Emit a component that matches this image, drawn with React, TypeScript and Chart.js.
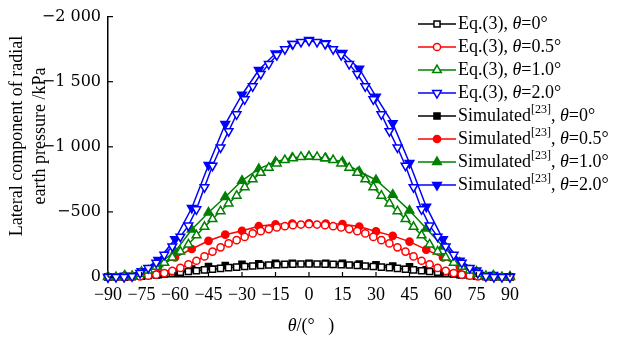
import React, { useEffect, useRef } from 'react';
import { Chart, registerables } from 'chart.js';

Chart.register(...registerables);

// ---------- data ----------
const eqTheta = [-90, -86.4, -82.8, -79.2, -75.6, -72, -68.4, -64.8, -61.2, -57.6, -54, -50.4, -46.8, -43.2, -39.6, -36, -32.4, -28.8, -25.2, -21.6, -18, -14.4, -10.8, -7.2, -3.6, 0, 3.6, 7.2, 10.8, 14.4, 18, 21.6, 25.2, 28.8, 32.4, 36, 39.6, 43.2, 46.8, 50.4, 54, 57.6, 61.2, 64.8, 68.4, 72, 75.6, 79.2, 82.8, 86.4, 90];

const eqTheta0 = [0, 0, -1, -3, -6, -11, -16, -23, -30, -36, -42, -48, -55, -60, -66, -72, -76, -80, -85, -89, -92, -95, -97, -99, -100, -100, -100, -99, -97, -95, -92, -89, -85, -80, -76, -72, -66, -60, -55, -48, -42, -36, -30, -23, -16, -11, -6, -3, -1, 0, 0];
const eqTheta05 = [0, 0, 0, -2, -5, -10, -18, -30, -47, -70, -98, -125, -158, -195, -228, -258, -283, -308, -335, -352, -368, -380, -390, -398, -403, -405, -403, -398, -390, -380, -368, -352, -335, -308, -283, -258, -228, -195, -158, -125, -98, -70, -47, -30, -18, -10, -5, -2, 0, 0, 0];
const eqTheta10 = [0, 0, -2, -8, -25, -50, -78, -110, -150, -195, -250, -320, -385, -445, -505, -565, -625, -690, -750, -800, -840, -872, -898, -912, -922, -925, -922, -912, -898, -872, -840, -800, -750, -690, -625, -565, -505, -445, -385, -320, -250, -195, -150, -110, -78, -50, -25, -8, -2, 0, 0];
const eqTheta20 = [0, 0, 0, -5, -30, -70, -110, -170, -235, -310, -395, -520, -690, -855, -995, -1120, -1250, -1365, -1465, -1560, -1635, -1705, -1750, -1790, -1805, -1815, -1805, -1790, -1750, -1705, -1635, -1560, -1465, -1365, -1250, -1120, -995, -855, -690, -520, -395, -310, -235, -170, -110, -70, -30, -5, 0, 0, 0];

const simTheta = [-90, -82.5, -75, -67.5, -60, -52.5, -45, -37.5, -30, -22.5, -15, -7.5, 0, 7.5, 15, 22.5, 30, 37.5, 45, 52.5, 60, 67.5, 75, 82.5, 90];

const simTheta0 = [0, -1, -6, -18, -38, -62, -80, -88, -97, -102, -105, -106, -106, -106, -105, -100, -93, -85, -78, -55, -36, -18, -6, -1, 0];
const simTheta05 = [0, -8, -30, -80, -150, -215, -278, -325, -355, -390, -405, -410, -412, -410, -406, -388, -350, -316, -272, -210, -150, -80, -30, -8, 0];
const simTheta10 = [-3, -12, -40, -100, -195, -365, -495, -615, -740, -830, -885, -915, -925, -912, -885, -810, -745, -632, -510, -372, -235, -110, -42, -12, -3];
const simTheta20 = [0, -10, -45, -130, -290, -530, -860, -1175, -1400, -1590, -1716, -1790, -1820, -1795, -1720, -1600, -1385, -1180, -875, -540, -290, -125, -50, -15, -3];

const xTickValues = [-90, -75, -60, -45, -30, -15, 0, 15, 30, 45, 60, 75, 90];
const xTickLabels = ['\u221290', '\u221275', '\u221260', '\u221245', '\u221230', '\u221215', '0', '15', '30', '45', '60', '75', '90'];
const yTickValues = [0, -500, -1000, -1500, -2000];
const yTickLabels = ['0', '\u2212500', '\u22121 000', '\u22121 500', '\u22122 000'];

const seriesThetaLabels = ['0', '0.5', '1.0', '2.0'];
const seriesColors = ['#000000', '#ff0000', '#008000', '#0000ff'];

// ---------- styling ----------
const FONT = '"Liberation Serif", "Times New Roman", serif';
const YFONT = '"DejaVu Serif", serif';
type Marker = { style: string; rotation: number; radius: number };
const markers: Marker[] = [
  { style: 'rect', rotation: 0, radius: 4.3 },
  { style: 'circle', rotation: 0, radius: 3.6 },
  { style: 'triangle', rotation: 0, radius: 5 },
  { style: 'triangle', rotation: 180, radius: 5 },
];

function drawMarker(ctx: CanvasRenderingContext2D, m: Marker, x: number, y: number, color: string, filled: boolean) {
  ctx.save();
  ctx.beginPath();
  const r = m.radius;
  if (m.style === 'rect') {
    const s = r * Math.SQRT1_2;
    ctx.rect(x - s, y - s, 2 * s, 2 * s);
  } else if (m.style === 'circle') {
    ctx.arc(x, y, r, 0, Math.PI * 2);
  } else {
    let rad = (m.rotation * Math.PI) / 180;
    ctx.moveTo(x + Math.sin(rad) * r, y - Math.cos(rad) * r);
    rad += (2 * Math.PI) / 3;
    ctx.lineTo(x + Math.sin(rad) * r, y - Math.cos(rad) * r);
    rad += (2 * Math.PI) / 3;
    ctx.lineTo(x + Math.sin(rad) * r, y - Math.cos(rad) * r);
    ctx.closePath();
  }
  ctx.fillStyle = filled ? color : '#ffffff';
  ctx.fill();
  ctx.lineWidth = 1.5;
  ctx.strokeStyle = color;
  ctx.stroke();
  ctx.restore();
}

const overlayPlugin = {
  id: 'overlay',
  afterDraw(chart: any) {
    const ctx: CanvasRenderingContext2D = chart.ctx;
    const xs = chart.scales.x;
    const ys = chart.scales.y;
    const area = chart.chartArea;
    ctx.save();
    // inward tick marks
    ctx.strokeStyle = '#000';
    ctx.lineWidth = 1.2;
    xTickValues.forEach((v) => {
      const px = xs.getPixelForValue(v);
      ctx.beginPath();
      ctx.moveTo(px, area.bottom);
      ctx.lineTo(px, area.bottom - 5);
      ctx.stroke();
    });
    yTickValues.forEach((v) => {
      const py = ys.getPixelForValue(v);
      ctx.beginPath();
      ctx.moveTo(area.left, py);
      ctx.lineTo(area.left + 5, py);
      ctx.stroke();
    });

    // legend
    const lx0 = 418, lx1 = 456, tx = 458, ly0 = 24, dy = 23;
    ctx.textBaseline = 'middle';
    ctx.textAlign = 'left';
    for (let i = 0; i < 8; i++) {
      const k = i % 4;
      const sim = i >= 4;
      const y = ly0 + i * dy;
      const color = seriesColors[k];
      ctx.strokeStyle = color;
      ctx.lineWidth = 1.5;
      ctx.beginPath();
      ctx.moveTo(lx0, y);
      ctx.lineTo(lx1, y);
      ctx.stroke();
      drawMarker(ctx, markers[k], (lx0 + lx1) / 2, y, color, sim);
      let x = tx;
      ctx.fillStyle = '#000';
      const put = (t: string, font: string, dyy = 0) => {
        ctx.font = font;
        ctx.fillText(t, x, y + dyy);
        x += ctx.measureText(t).width;
      };
      const normal = `18px ${FONT}`;
      const ital = `italic 18px ${FONT}`;
      if (!sim) {
        put('Eq.(3), ', normal);
      } else {
        put('Simulated', normal);
        put('[23]', `12px ${FONT}`, -6);
        put(', ', normal);
      }
      put('\u03b8', ital);
      put('=' + seriesThetaLabels[k] + '\u00b0', normal);
    }

    // x axis title
    ctx.font = `italic 18px ${FONT}`;
    const w1 = ctx.measureText('\u03b8').width;
    ctx.font = `18px ${FONT}`;
    const rest = '/(\u00b0\u2002 )';
    const w2 = ctx.measureText(rest).width;
    const cx = (area.left + area.right) / 2 + 2;
    const sx = cx - (w1 + w2) / 2;
    ctx.fillStyle = '#000';
    ctx.font = `italic 18px ${FONT}`;
    ctx.fillText('\u03b8', sx, 326);
    ctx.font = `18px ${FONT}`;
    ctx.fillText(rest, sx + w1, 326);

    // y axis title
    ctx.save();
    ctx.translate(0, 136);
    ctx.rotate(-Math.PI / 2);
    ctx.textAlign = 'center';
    ctx.font = `18px ${FONT}`;
    ctx.fillText('Lateral component of radial', 0, 17);
    ctx.fillText('earth pressure /kPa', 0, 40);
    ctx.restore();

    ctx.restore();
  },
};

export default function App() {
  const ref = useRef<HTMLCanvasElement>(null);
  useEffect(() => {
    const canvas = ref.current;
    if (!canvas) return;
    const pts = (xs: number[], ys: number[]) => xs.map((x, i) => ({ x, y: ys[i] }));
    const eqSeries = [eqTheta0, eqTheta05, eqTheta10, eqTheta20];
    const simSeries = [simTheta0, simTheta05, simTheta10, simTheta20];
    const datasets: any[] = [];
    eqSeries.forEach((s, k) => {
      datasets.push({
        label: `Eq.(3), θ=${seriesThetaLabels[k]}°`,
        data: pts(eqTheta, s),
        borderColor: seriesColors[k],
        borderWidth: 1.5,
        pointStyle: markers[k].style,
        rotation: markers[k].rotation,
        pointRadius: markers[k].radius,
        pointBorderWidth: 1.5,
        pointBackgroundColor: '#ffffff',
        pointBorderColor: seriesColors[k],
        tension: 0,
        clip: false,
        order: 4 - k,
      });
    });
    simSeries.forEach((s, k) => {
      datasets.push({
        label: `Simulated[23], θ=${seriesThetaLabels[k]}°`,
        data: pts(simTheta, s),
        borderColor: seriesColors[k],
        borderWidth: 1.5,
        pointStyle: markers[k].style,
        rotation: markers[k].rotation,
        pointRadius: markers[k].radius,
        pointBorderWidth: 1.5,
        pointBackgroundColor: seriesColors[k],
        pointBorderColor: seriesColors[k],
        tension: 0,
        clip: false,
        order: 8 - k,
      });
    });

    const chart = new Chart(canvas, {
      type: 'line',
      data: { datasets },
      options: {
        animation: false,
        responsive: false,
        layout: { padding: { top: 16, right: 117, left: 0, bottom: 0 } },
        plugins: { legend: { display: false }, tooltip: { enabled: false } },
        scales: {
          x: {
            type: 'linear',
            min: -90,
            max: 90,
            afterBuildTicks: (s: any) => {
              s.ticks = xTickValues.map((v) => ({ value: v }));
            },
            afterFit: (s: any) => {
              s.height = 61;
            },
            ticks: {
              callback: (_v: any, i: number) => xTickLabels[i],
              font: { family: FONT, size: 18 },
              color: '#000',
              padding: 7,
              maxRotation: 0,
              autoSkip: false,
            },
            grid: { display: true, drawOnChartArea: false, drawTicks: false },
            border: { display: true, color: '#000', width: 1.5 },
          },
          y: {
            type: 'linear',
            min: -2000,
            max: 0,
            reverse: true,
            afterBuildTicks: (s: any) => {
              s.ticks = yTickValues.map((v) => ({ value: v }));
            },
            afterFit: (s: any) => {
              s.width = 108;
            },
            ticks: {
              callback: (_v: any, i: number) => yTickLabels[i],
              font: { family: YFONT, size: 16 },
              color: '#000',
              padding: 7,
              autoSkip: false,
            },
            grid: { display: true, drawOnChartArea: false, drawTicks: false },
            border: { display: true, color: '#000', width: 1.5 },
          },
        },
      } as any,
      plugins: [overlayPlugin],
    });
    return () => chart.destroy();
  }, []);

  return (
    <div style={{ position: 'absolute', left: 0, top: 0, width: 627, height: 338, background: '#fff' }}>
      <canvas ref={ref} width={627} height={338} style={{ display: 'block', width: 627, height: 338 }} />
    </div>
  );
}
